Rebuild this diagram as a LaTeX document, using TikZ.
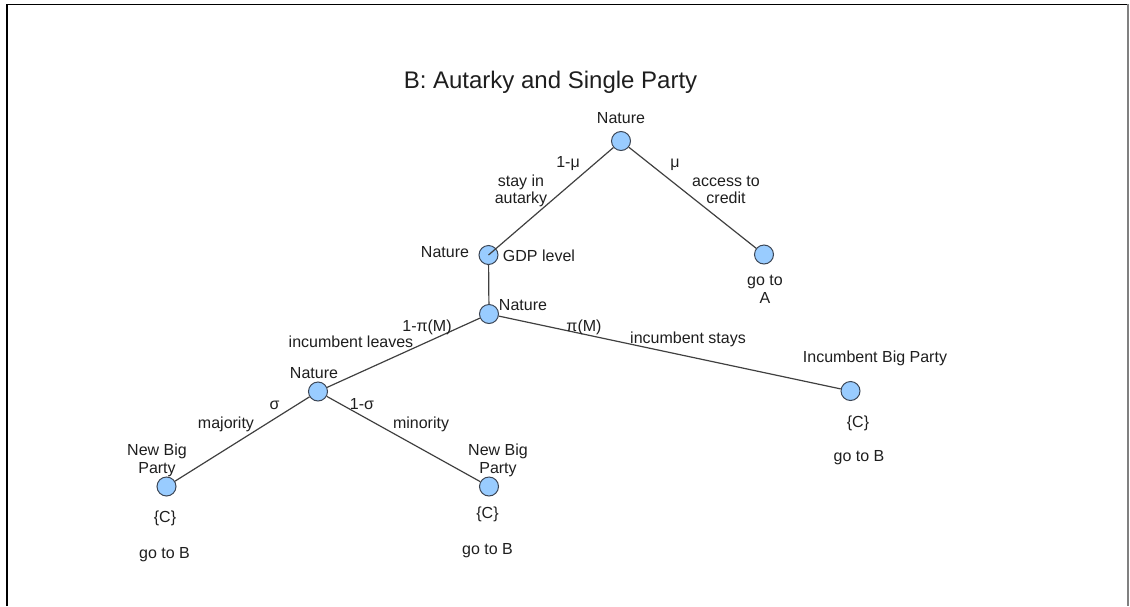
\documentclass[tikz,border=0pt]{standalone}
\usepackage{fontspec}
\setmainfont{Liberation Sans}
\definecolor{nodefill}{RGB}{153,204,255}
\definecolor{nodeedge}{RGB}{60,70,85}
\definecolor{edgecol}{RGB}{64,64,64}
\definecolor{txtcol}{RGB}{30,30,30}
\tikzset{
  chance/.style={circle, draw=nodeedge, fill=nodefill, line width=1pt, minimum size=19pt, inner sep=0pt},
  branch/.style={draw=edgecol, line width=1.2pt},
  lbl/.style={font=\fontsize{16}{17.5}\selectfont, text=txtcol, inner sep=0pt, anchor=base, align=center},
  ttl/.style={font=\fontsize{24}{28}\selectfont, text=txtcol, inner sep=0pt, anchor=base}
}
\begin{document}
\begin{tikzpicture}[x=1pt,y=-1pt]
\useasboundingbox (0,0) rectangle (1130,606);
% page frame
\draw[black, line width=1.5pt] (7,606) -- (7,4.5) -- (1127,4.5);
\draw[gray, line width=2pt] (1128,4) -- (1128,606);

% title
\node[ttl] (title) at (550.5,88.5) {B: Autarky and Single Party};

% decision nodes
\node[chance] (top)   at (621,141) {};
\node[chance] (gdp)   at (488.5,255) {};
\node[chance] (goA)   at (764,254.5) {};
\node[chance] (nat2)  at (489,314) {};
\node[chance] (nat3)  at (318,391.5) {};
\node[chance] (inc)   at (850.5,391) {};
\node[chance] (nbpL)  at (166.5,486.5) {};
\node[chance] (nbpR)  at (489,486.5) {};

% branches
\draw[branch] (top) -- (gdp.center);
\draw[branch] (top) -- (goA);
\draw[branch] (gdp) -- (nat2);
\draw[branch] (nat2) -- (nat3);
\draw[branch] (nat2) -- (inc);
\draw[branch] (nat3) -- (nbpL);
\draw[branch] (nat3) -- (nbpR);

% labels (two-line labels are anchored at the baseline of their last line)
\node[lbl] (lTop)   at (621,123.5) {Nature};
\node[lbl] (l1mu)   at (568,167.5) {1-μ};
\node[lbl] (lmu)    at (675,167.5) {μ};
\node[lbl] (lstay)  at (521,203.5) {stay in\\autarky};
\node[lbl] (lacc)   at (726,203.5) {access to\\credit};
\node[lbl] (lGdpN)  at (445,257.5) {Nature};
\node[lbl] (lGdp)   at (539,261.5) {GDP level};
\node[lbl] (lGoA)   at (765,303) {go to\\A};
\node[lbl] (lNat2)  at (523,310.5) {Nature};
\node[lbl] (l1pi)   at (427,331.5) {1-π(M)};
\node[lbl] (lleave) at (351,347.5) {incumbent leaves};
\node[lbl] (lpi)    at (584,331.5) {π(M)};
\node[lbl] (lstays) at (688,343.5) {incumbent stays};
\node[lbl] (lInc)   at (875,362.5) {Incumbent Big Party};
\node[lbl] (lIncC)  at (858,427.5) {\{C\}};
\node[lbl] (lIncB)  at (859,461.5) {go to B};
\node[lbl] (lNat3)  at (314,378.5) {Nature};
\node[lbl] (lsig)   at (274.5,409.5) {σ};
\node[lbl] (l1sig)  at (362,409.5) {1-σ};
\node[lbl] (lmaj)   at (226,428.5) {majority};
\node[lbl] (lmin)   at (421,428.5) {minority};
\node[lbl] (lNbpL)  at (157,473) {New Big\\Party};
\node[lbl] (lNbpR)  at (498,473) {New Big\\Party};
\node[lbl] (lCL)    at (165,522.5) {\{C\}};
\node[lbl] (lBL)    at (164.5,558.5) {go to B};
\node[lbl] (lCR)    at (487.5,518.5) {\{C\}};
\node[lbl] (lBR)    at (487.5,554.5) {go to B};
\end{tikzpicture}
\end{document}
